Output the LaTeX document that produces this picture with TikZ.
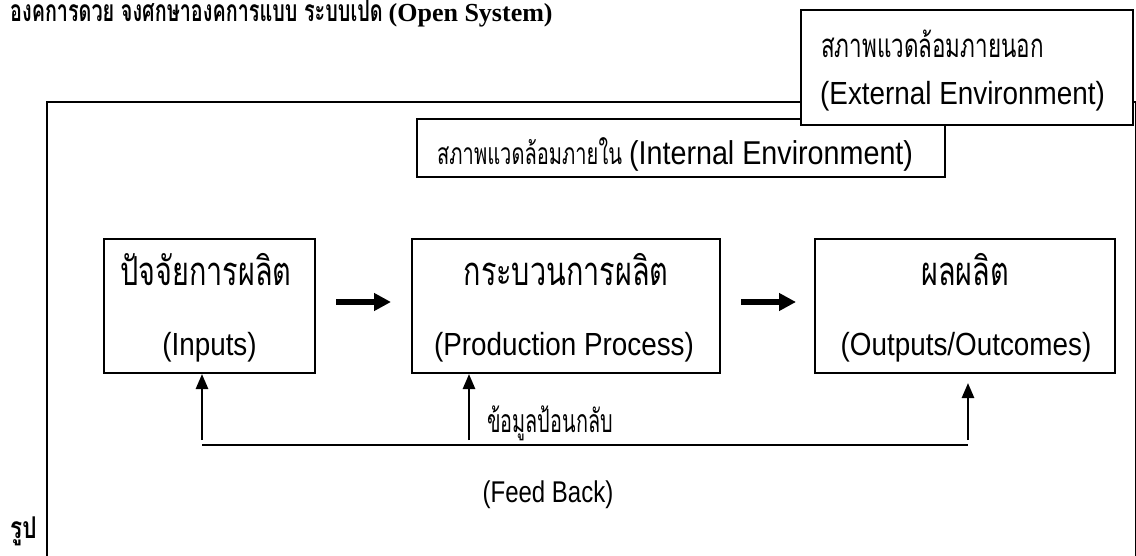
\documentclass[tikz,border=0pt]{standalone}
\usepackage{fontspec}
\setmainfont{Liberation Sans}
\newfontfamily\thai[Script=Thai]{Loma}
\newfontfamily\lat[FakeStretch=0.87]{Liberation Sans}
\newfontfamily\latn[FakeStretch=0.80]{Liberation Sans}
\newfontfamily\serifb{Liberation Serif}
\usetikzlibrary{arrows.meta}
\newcommand{\squeeze}[2]{\scalebox{#1}[1]{#2}}
\tikzset{
  frame/.style={draw=black, line width=2pt, fill=white},
  stage/.style={draw=black, line width=2pt, fill=white, minimum height=134pt, inner sep=0pt},
  lbl/.style={inner sep=0pt, anchor=base},
  lbll/.style={inner sep=0pt, anchor=base west},
  bigarrow/.style={line width=6pt, -{Triangle[length=17pt,width=17pt]}},
  fbline/.style={line width=2.6pt},
  fbarrow/.style={line width=2.6pt, -{Triangle[length=15pt,width=12pt]}},
}
\begin{document}
\begin{tikzpicture}[x=1pt,y=-1pt]
\useasboundingbox (0,0) rectangle (1136,556);
\clip (0,0) rectangle (1136,556);
% heading and caption
\node[lbll] (head) at (10,22) {\fontsize{30}{34}\selectfont\squeeze{0.66}{\thai\bfseries องคการดวย จงศกษาองคการแบบ ระบบเปด}\hspace{6pt}{\fontsize{26}{30}\selectfont\serifb\bfseries (Open System)}};
\node[lbll] (cap) at (10,538) {\fontsize{30}{32}\selectfont\squeeze{0.75}{\thai\bfseries รูป}};
% outer system frame
\draw[frame] (47,102) rectangle (1135.5,600);
% internal environment
\draw[frame] (417,119) rectangle (945,177);
\node[lbll] (intl) at (437,165) {\fontsize{30}{34}\selectfont\squeeze{0.67}{\thai สภาพแวดล้อมภายใน}\hspace{7pt}{\fontsize{33}{38}\selectfont\lat (Internal Environment)}};
% external environment
\draw[frame] (801,10) rectangle (1133,125);
\node[lbll] (extt) at (821,58) {\fontsize{33}{36}\selectfont\squeeze{0.68}{\thai สภาพแวดล้อมภายนอก}};
\node[lbll] (exte) at (820,105) {\fontsize{32}{36}\selectfont\lat (External Environment)};
% stages
\node[stage, minimum width=211pt] (in) at (209.5,306) {};
\node[stage, minimum width=308pt] (pr) at (566,306) {};
\node[stage, minimum width=300pt] (out) at (965,306) {};
\node[lbl] (inT) at (206,286) {\fontsize{40}{44}\selectfont\squeeze{0.72}{\thai ปัจจัยการผลิต}};
\node[lbl] (inE) at (209.5,355) {\fontsize{32}{36}\selectfont\lat (Inputs)};
\node[lbl] (prT) at (566,286) {\fontsize{40}{44}\selectfont\squeeze{0.72}{\thai กระบวนการผลิต}};
\node[lbl] (prE) at (564,355) {\fontsize{32}{36}\selectfont\lat (Production Process)};
\node[lbl] (outT) at (965,286) {\fontsize{40}{44}\selectfont\squeeze{0.72}{\thai ผลผลิต}};
\node[lbl] (outE) at (966,355) {\fontsize{32}{36}\selectfont\lat (Outputs/Outcomes)};
% forward arrows
\draw[bigarrow, shorten <=20pt, shorten >=20pt] (in.east |- 0,302) -- (pr.west |- 0,302);
\draw[bigarrow, shorten <=20pt, shorten >=18pt] (pr.east |- 0,302) -- (out.west |- 0,302);
% feedback
\coordinate (f1) at (202,445);
\coordinate (f2) at (469,445);
\coordinate (f3) at (968,445);
\draw[fbline] (f1) -- (f3);
\draw[fbarrow] ([yshift=5pt]f1) -- (f1 |- in.south);
\draw[fbarrow] ([yshift=5pt]f2) -- (f2 |- pr.south);
\draw[fbarrow, shorten >=9pt] ([yshift=5pt]f3) -- (f3 |- out.south);
\node[lbl] (fbT) at (550,432) {\fontsize{32}{36}\selectfont\squeeze{0.62}{\thai ข้อมูลป้อนกลับ}};
\node[lbl] (fbE) at (548,502) {\fontsize{30}{34}\selectfont\latn (Feed Back)};
\end{tikzpicture}
\end{document}
